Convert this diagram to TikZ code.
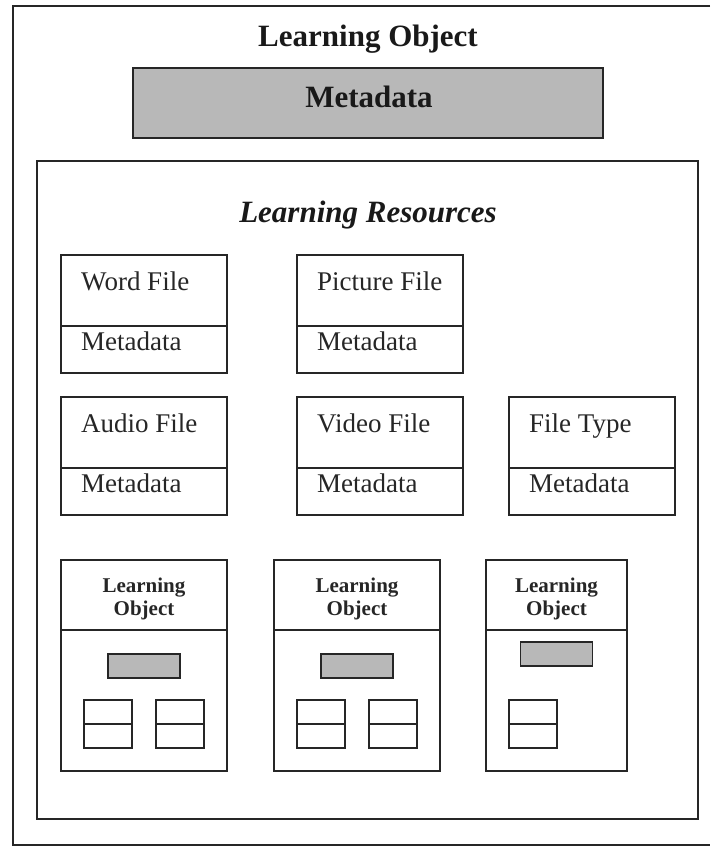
\documentclass[tikz,border=0pt]{standalone}
\usepackage{fontspec}
\setmainfont{Liberation Serif}

\tikzset{
  frame/.style={line width=1.6pt, draw=black!85},
  grainy/.style={frame, fill=black!28},
  bigtext/.style={font=\fontsize{31}{36}\selectfont\bfseries, text=black!90, inner sep=0pt},
  filetext/.style={font=\fontsize{27}{32}\selectfont, text=black!85, inner sep=0pt, anchor=base west},
  lotext/.style={font=\fontsize{21}{23}\selectfont\bfseries, text=black!85, inner sep=0pt, anchor=base, align=center}
}

\begin{document}
\begin{tikzpicture}[x=1pt, y=-1pt]
  \useasboundingbox (0,0) rectangle (710,848);

  % outer learning object (right edge runs off the page)
  \draw[frame] (710,6) -- (13,6) -- (13,845) -- (710,845);
  \node[bigtext, anchor=base] (title) at (368,47) {Learning Object};
  \draw[grainy] (133,68) rectangle (603,138);
  \node[bigtext, anchor=base] (meta) at (369,108) {Metadata};

  % learning resources
  \draw[frame] (37,161) rectangle (698,819);
  \node[bigtext, anchor=base, font=\fontsize{31}{36}\selectfont\bfseries\itshape] (res) at (368,222) {Learning Resources};

  % file boxes: name/x/y/label
  \foreach \n/\x/\y/\lbl in {word/61/255/Word File, picture/297/255/Picture File,
                             audio/61/397/Audio File, video/297/397/Video File,
                             type/509/397/File Type} {
    \begin{scope}[shift={(\x,\y)}]
      \draw[frame] (0,0) rectangle (166,118);
      \draw[frame] (0,71) -- (166,71);
      \node[filetext] (\n-name) at (20,35) {\lbl};
      \node[filetext] (\n-meta) at (20,95) {Metadata};
    \end{scope}
  }

  % nested learning objects: index/x/width/metadata y/two parts?
  \foreach \i/\x/\w/\my/\two in {1/61/166/94/1, 2/274/166/94/1, 3/486/141/82/0} {
    \begin{scope}[shift={(\x,560)}]
      \draw[frame] (0,0) rectangle (\w,211);
      \draw[frame] (0,70) -- (\w,70);
      \node[lotext] (lo\i) at (\w/2,55) {Learning\\Object};
      \draw[grainy, line width=1.3pt] (\w/2-36,\my) rectangle (\w/2+36,\my+24);
      % embedded resources
      \draw[frame, line width=1.3pt] (23,140) rectangle (71,188);
      \draw[frame, line width=1.3pt] (23,164) -- (71,164);
      \ifnum\two=1
        \draw[frame, line width=1.3pt] (95,140) rectangle (143,188);
        \draw[frame, line width=1.3pt] (95,164) -- (143,164);
      \fi
    \end{scope}
  }
\end{tikzpicture}
\end{document}
